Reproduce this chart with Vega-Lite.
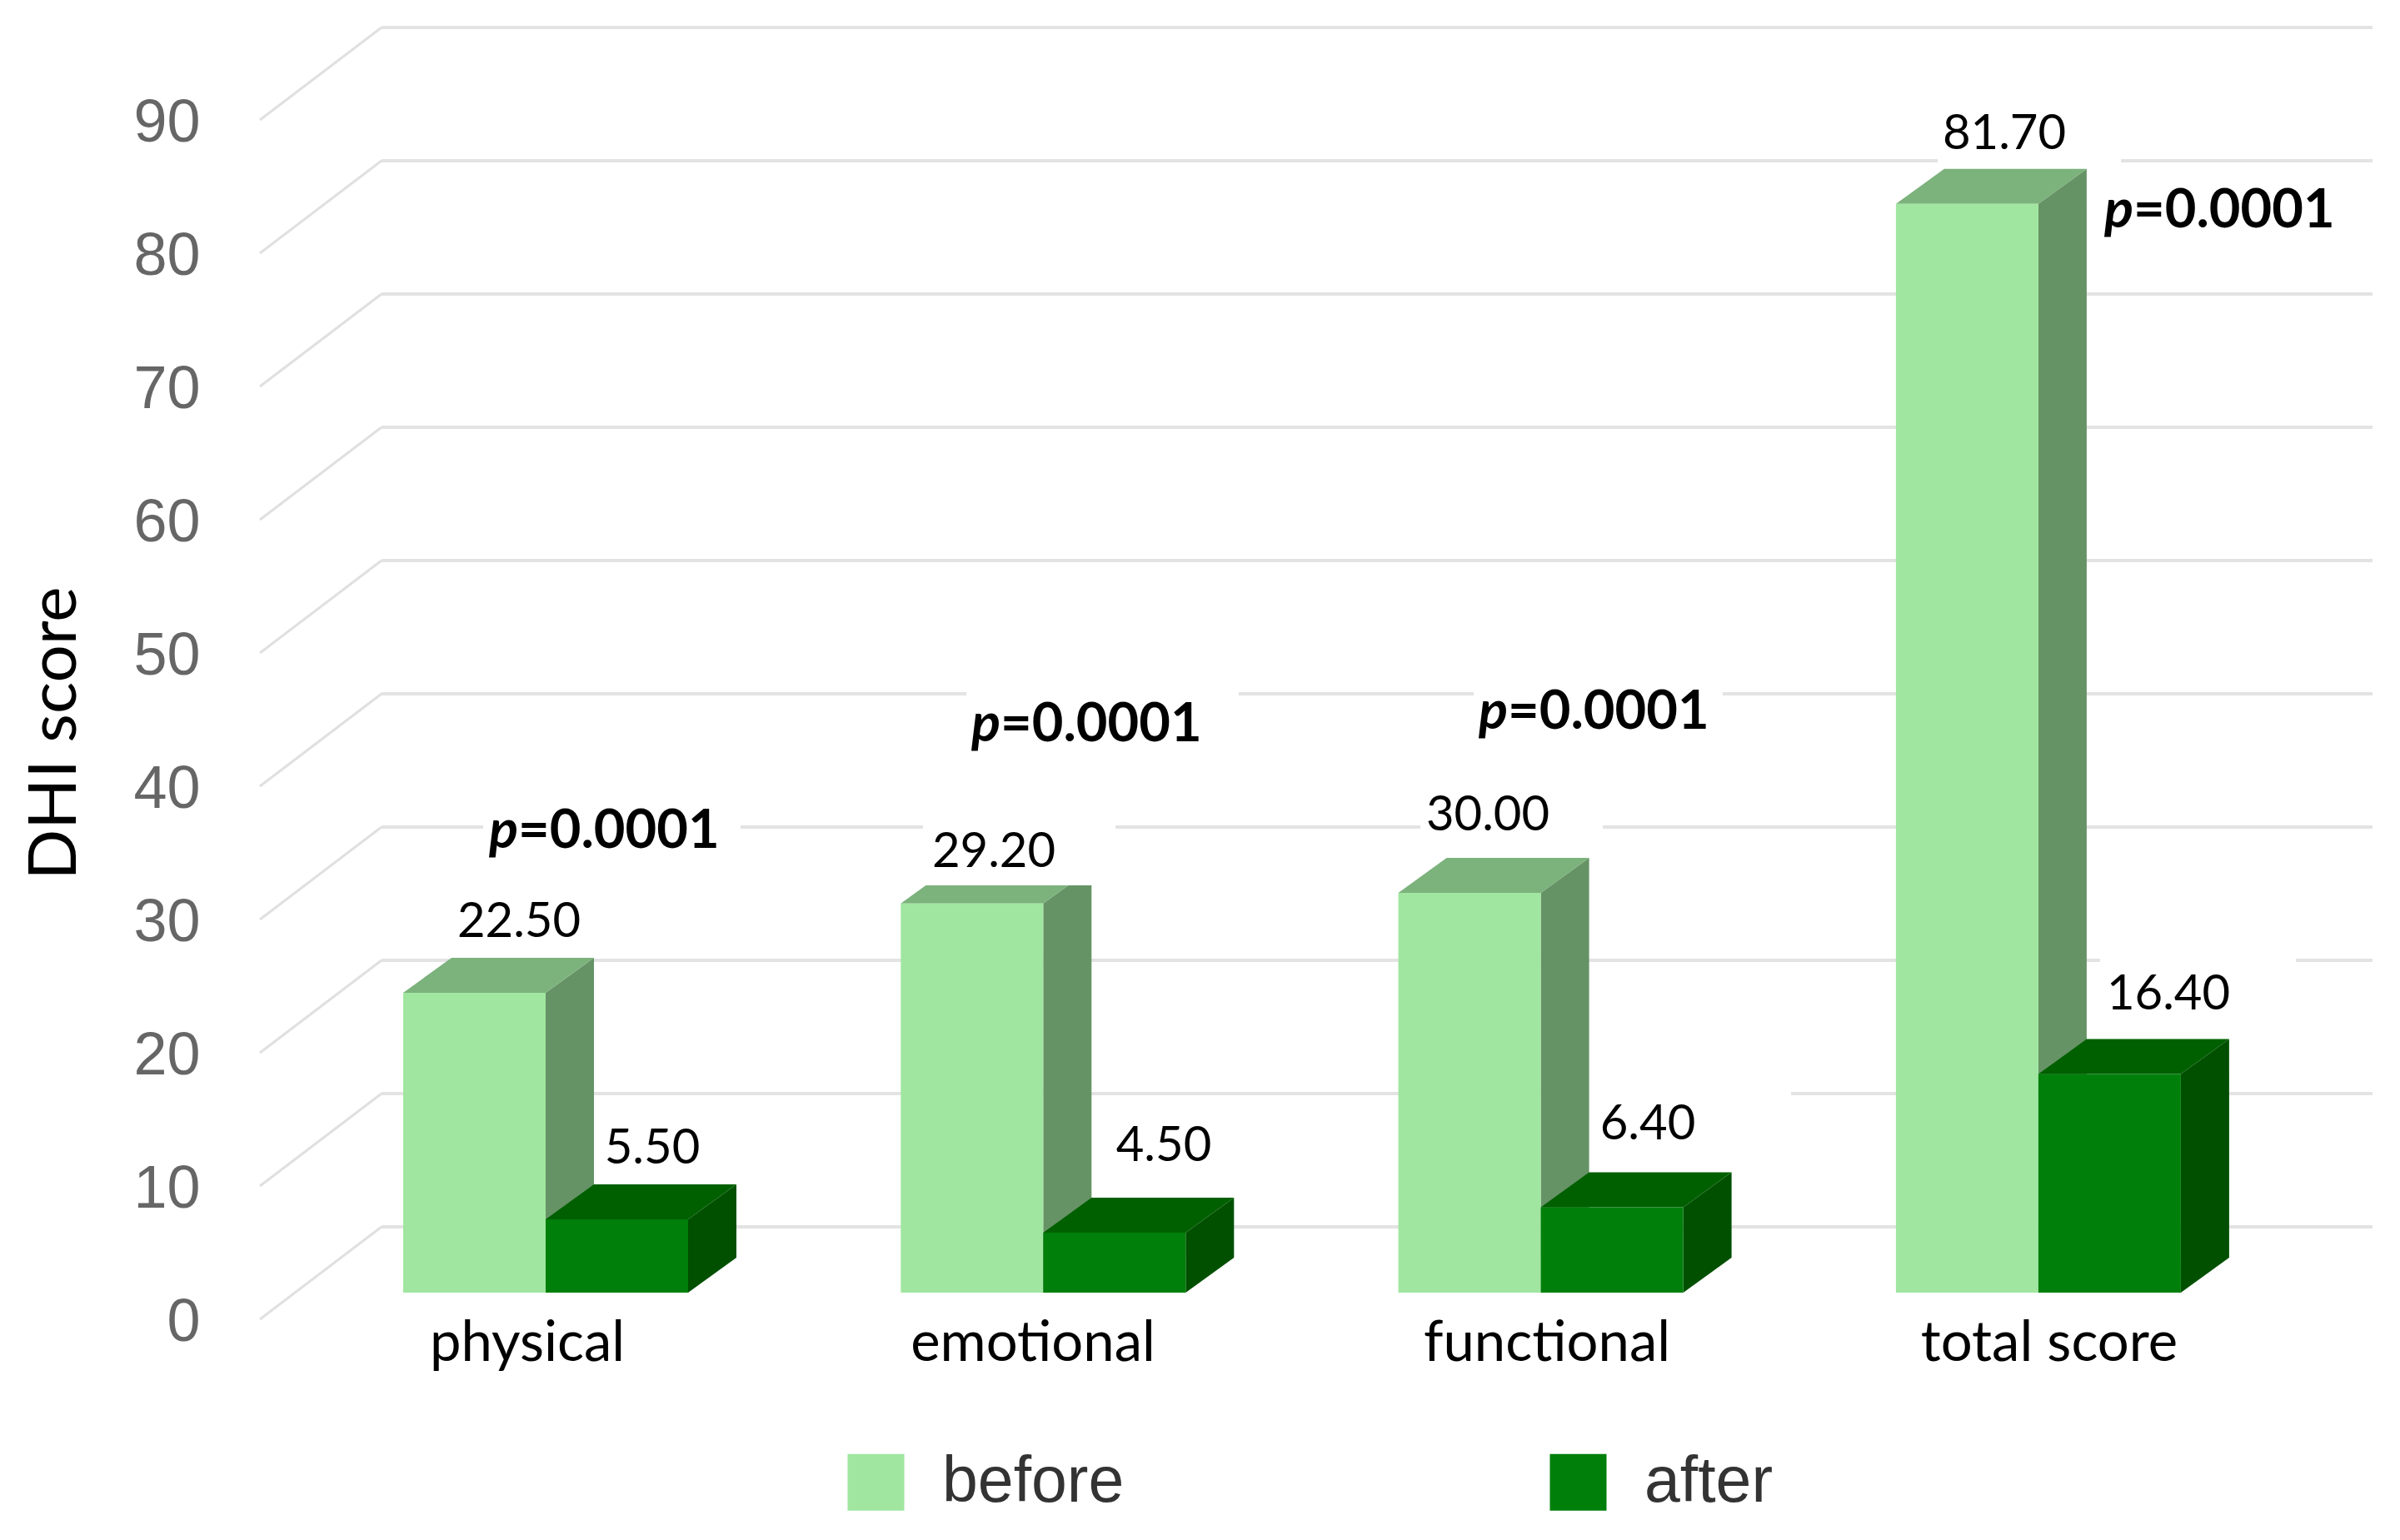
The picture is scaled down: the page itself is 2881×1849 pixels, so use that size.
{"$schema":"https://vega.github.io/schema/vega-lite/v6.json","width":2881,"height":1849,"padding":0,"autosize":{"type":"none"},"background":"white","config":{"view":{"stroke":null}},
"resolve":{"axis":{"y":"independent","x":"independent"}},
"datasets":{
"bars":[{"category":"physical","group":"before","score":22.5},{"category":"physical","group":"after","score":5.5},{"category":"emotional","group":"before","score":29.2},{"category":"emotional","group":"after","score":4.5},{"category":"functional","group":"before","score":30},{"category":"functional","group":"after","score":6.4},{"category":"total score","group":"before","score":81.7},{"category":"total score","group":"after","score":16.4}],
"ticks":[{"tick":0},{"tick":10},{"tick":20},{"tick":30},{"tick":40},{"tick":50},{"tick":60},{"tick":70},{"tick":80},{"tick":90}],
"segments":[{"tick":90,"from":458,"to":2848},{"tick":80,"from":458,"to":2326},{"tick":80,"from":2546,"to":2848},{"tick":70,"from":458,"to":2848},{"tick":60,"from":458,"to":2848},{"tick":50,"from":458,"to":2848},{"tick":40,"from":458,"to":1160},{"tick":40,"from":1487,"to":1769},{"tick":40,"from":2068,"to":2848},{"tick":30,"from":458,"to":580},{"tick":30,"from":889,"to":1112},{"tick":30,"from":1339,"to":1705},{"tick":30,"from":1924,"to":2848},{"tick":20,"from":458,"to":2521},{"tick":20,"from":2756,"to":2848},{"tick":10,"from":458,"to":1900},{"tick":10,"from":2150,"to":2848},{"tick":0,"from":458,"to":2848}],
"masks":[{"from":1108,"to":1339,"low":30.56,"high":36.06}],
"valueLabels":[{"label":"22.50","at":623,"level":27.94},{"label":"5.50","at":783,"level":10.94},{"label":"29.20","at":1193,"level":33.19},{"label":"4.50","at":1397,"level":11.1},{"label":"30.00","at":1786,"level":35.94},{"label":"6.40","at":1978,"level":12.75},{"label":"81.70","at":2406,"level":87.06},{"label":"16.40","at":2603,"level":22.5}],
"pLabels":[{"letter":"p","rest":"=0.0001","at":622,"level":34.81},{"letter":"p","rest":"=0.0001","at":1201,"level":42.8},{"letter":"p","rest":"=0.0001","at":1810,"level":43.75},{"letter":"p","rest":"=0.0001","at":2561,"level":81.38}],
"categoryLabels":[{"label":"physical","at":633,"level":-5.1},{"label":"emotional","at":1240,"level":-5.1},{"label":"functional","at":1857,"level":-5.1},{"label":"total score","at":2460,"level":-5.1}]
},
"layer":[
{"data":{"name":"ticks"},"transform":[{"calculate":"datum.tick-2","as":"frontLevel"},{"calculate":"datum.tick+4.94","as":"backLevel"}],"mark":{"type":"rule","stroke":"#e0e0e0","strokeWidth":3},"encoding":{"x":{"datum":312,"type":"quantitative","scale":{"domain":[0,2881],"nice":false,"zero":false},"axis":null},"x2":{"datum":458},"y":{"field":"frontLevel","type":"quantitative","scale":{"domain":[-18.5625,97],"nice":false,"zero":false},"axis":null},"y2":{"field":"backLevel"}}},
{"data":{"name":"segments"},"transform":[{"calculate":"datum.tick+4.94","as":"backLevel"}],"mark":{"type":"rule","stroke":"#e3e3e3","strokeWidth":4},"encoding":{"x":{"field":"from","type":"quantitative","scale":{"domain":[0,2881],"nice":false,"zero":false},"axis":null},"x2":{"field":"to"},"y":{"field":"backLevel","type":"quantitative","scale":{"domain":[-18.5625,97],"nice":false,"zero":false},"axis":{"values":[0,10,20,30,40,50,60,70,80,90],"orient":"left","offset":-240,"domain":false,"ticks":false,"grid":false,"labelPadding":0,"labelFont":"Liberation Sans","labelFontSize":72,"labelColor":"#666666","labelOffset":35,"labelOverlap":false,"labelFlush":false,"title":"DHI score","titleFont":"Lato","titleFontSize":80,"titleFontWeight":"normal","titleColor":"#000000","titleAngle":-90,"titleX":-174,"titleY":880,"titleAlign":"center","titleBaseline":"middle"}}}},
{"data":{"name":"bars"},"transform":[{"calculate":"484+597.3*indexof(['physical','emotional','functional','total score'],datum.category)+(datum.group==='after'?171:0)","as":"left"},{"calculate":"datum.left+171","as":"right"},{"calculate":"datum.right+58","as":"rear"},{"fold":["right","rear"],"as":["edge","edgeAt"]},{"calculate":"datum.edge==='rear'?2.625:0","as":"lift"},{"calculate":"datum.lift","as":"low"},{"calculate":"datum.score+datum.lift","as":"high"},{"calculate":"datum.category+datum.group","as":"bar"}],"mark":{"type":"area","opacity":1,"strokeWidth":0},"encoding":{"x":{"field":"edgeAt","type":"quantitative","scale":{"domain":[0,2881],"nice":false,"zero":false},"axis":null},"y":{"field":"high","type":"quantitative","stack":null,"scale":{"domain":[-18.5625,97],"nice":false,"zero":false},"axis":null},"y2":{"field":"low"},"detail":{"field":"bar"},"fill":{"condition":{"test":"datum.group==='before'","value":"#669366"},"value":"#005000"}}},
{"data":{"name":"bars"},"transform":[{"calculate":"484+597.3*indexof(['physical','emotional','functional','total score'],datum.category)+(datum.group==='after'?171:0)","as":"left"}],"mark":{"type":"point","filled":true,"opacity":1,"strokeWidth":0,"size":40000,"shape":"M0,0 L1.71,0 L2.29,-0.42 L0.58,-0.42 Z"},"encoding":{"x":{"field":"left","type":"quantitative","scale":{"domain":[0,2881],"nice":false,"zero":false},"axis":null},"y":{"field":"score","type":"quantitative","scale":{"domain":[-18.5625,97],"nice":false,"zero":false},"axis":null},"fill":{"condition":{"test":"datum.group==='before'","value":"#7CB27C"},"value":"#006000"}}},
{"data":{"name":"bars"},"transform":[{"calculate":"484+597.3*indexof(['physical','emotional','functional','total score'],datum.category)+(datum.group==='after'?171:0)","as":"left"},{"calculate":"datum.left+171","as":"right"}],"mark":{"type":"rect","opacity":1,"strokeWidth":0},"encoding":{"x":{"field":"left","type":"quantitative","scale":{"domain":[0,2881],"nice":false,"zero":false},"axis":null},"x2":{"field":"right"},"y":{"field":"score","type":"quantitative","scale":{"domain":[-18.5625,97],"nice":false,"zero":false},"axis":null},"y2":{"datum":0},"color":{"field":"group","type":"nominal","scale":{"domain":["before","after"],"range":["#A0E6A0","#007F0B"]},"legend":{"title":null,"orient":"none","legendX":1013,"legendY":1741,"direction":"horizontal","columns":2,"columnPadding":506,"padding":0,"symbolType":"square","symbolSize":4624,"symbolStrokeWidth":0,"symbolOpacity":1,"labelOffset":41,"labelFont":"Liberation Sans","labelFontSize":77,"labelColor":"#333333","labelLimit":600,"rowPadding":0}}}},
{"data":{"name":"masks"},"mark":{"type":"rect","fill":"#ffffff","opacity":1,"strokeWidth":0},"encoding":{"x":{"field":"from","type":"quantitative","scale":{"domain":[0,2881],"nice":false,"zero":false},"axis":null},"x2":{"field":"to"},"y":{"field":"low","type":"quantitative","scale":{"domain":[-18.5625,97],"nice":false,"zero":false},"axis":null},"y2":{"field":"high"}}},
{"data":{"name":"valueLabels"},"mark":{"type":"text","font":"Lato","fontSize":58,"color":"#000000","align":"center","baseline":"middle","dy":3},"encoding":{"x":{"field":"at","type":"quantitative","scale":{"domain":[0,2881],"nice":false,"zero":false},"axis":null},"y":{"field":"level","type":"quantitative","scale":{"domain":[-18.5625,97],"nice":false,"zero":false},"axis":null},"text":{"field":"label"}}},
{"data":{"name":"categoryLabels"},"mark":{"type":"text","font":"Lato","fontSize":67,"color":"#000000","align":"center","baseline":"alphabetic"},"encoding":{"x":{"field":"at","type":"quantitative","scale":{"domain":[0,2881],"nice":false,"zero":false},"axis":null},"y":{"field":"level","type":"quantitative","scale":{"domain":[-18.5625,97],"nice":false,"zero":false},"axis":null},"text":{"field":"label"}}},
{"data":{"name":"pLabels"},"mark":{"type":"text","font":"Lato","fontSize":65,"fontWeight":"bold","color":"#000000","align":"left","baseline":"middle","dy":3},"encoding":{"x":{"field":"at","type":"quantitative","scale":{"domain":[0,2881],"nice":false,"zero":false},"axis":null},"y":{"field":"level","type":"quantitative","scale":{"domain":[-18.5625,97],"nice":false,"zero":false},"axis":null},"text":{"field":"rest"}}},
{"data":{"name":"pLabels"},"mark":{"type":"text","font":"Lato","fontSize":65,"fontWeight":"bold","fontStyle":"italic","color":"#000000","align":"right","baseline":"middle","dy":3},"encoding":{"x":{"field":"at","type":"quantitative","scale":{"domain":[0,2881],"nice":false,"zero":false},"axis":null},"y":{"field":"level","type":"quantitative","scale":{"domain":[-18.5625,97],"nice":false,"zero":false},"axis":null},"text":{"field":"letter"}}}
]}
